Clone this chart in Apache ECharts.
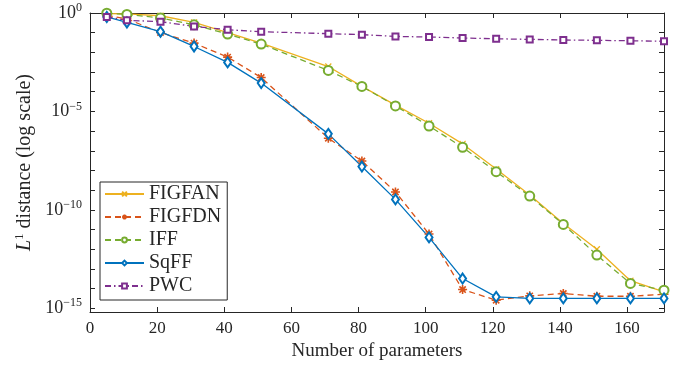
<!DOCTYPE html>
<html>
<head>
<meta charset="utf-8">
<script src="https://cdn.jsdelivr.net/npm/echarts@6/dist/echarts.min.js"></script>
<style>
  html, body { margin: 0; padding: 0; background: #fff; }
  #chart { width: 681px; height: 366px; }
</style>
</head>
<body>
<div id="chart"></div>
<script>
// number of parameters (no run at 61)
const params = [5, 11, 21, 31, 41, 51, 71, 81, 91, 101, 111, 121, 131, 141, 151, 161, 171];

// log10 of the L1 distance
const figfan = [-0.03, -0.04, -0.14, -0.48, -1.0, -1.53, -2.72, -3.73, -4.68, -5.6, -6.65, -7.93, -9.25, -10.69, -12.0, -13.6, -14.17];
const figfdn = [-0.12, -0.3, -0.99, -1.53, -2.24, -3.28, -6.36, -7.52, -9.09, -11.23, -14.05, -14.59, -14.37, -14.25, -14.39, -14.39, -14.29];
const iff = [-0.01, -0.07, -0.25, -0.6, -1.07, -1.58, -2.92, -3.73, -4.72, -5.74, -6.82, -8.06, -9.3, -10.74, -12.3, -13.74, -14.08];
const sqff = [-0.2, -0.48, -0.95, -1.7, -2.51, -3.56, -6.14, -7.8, -9.47, -11.4, -13.49, -14.42, -14.5, -14.5, -14.5, -14.5, -14.5];
const pwc = [-0.2, -0.37, -0.44, -0.68, -0.85, -0.95, -1.05, -1.1, -1.19, -1.22, -1.27, -1.31, -1.34, -1.37, -1.39, -1.41, -1.44];

const xTicks = [0, 20, 40, 60, 80, 100, 120, 140, 160];
const yMinorTicks = [-15, -14, -13, -12, -11, -10, -9, -8, -7, -6, -5, -4, -3, -2, -1, 0];
const yLabels = [-15, -10, -5, 0];

const serif = "Liberation Serif";
const axisColor = "#262626";

const X_MARK = "path://M0,0L10,10M10,0L0,10";
const STAR_MARK = "path://M5,0L5,10M0,5L10,5M1.5,1.5L8.5,8.5M8.5,1.5L1.5,8.5";

const pairs = (ys) => params.map((x, i) => [x, ys[i]]);

const mkSeries = (name, ys, color, symbol, size, dash, bw) => ({
  name,
  type: "line",
  data: pairs(ys),
  symbol,
  symbolSize: size,
  showAllSymbol: true,
  lineStyle: { color, width: 1.3, type: dash },
  itemStyle: { color, borderColor: color, borderWidth: bw || 1.2 },
  emphasis: { disabled: true },
  animation: false,
});

const chart = echarts.init(document.getElementById("chart"));

const baseX = {
  type: "value",
  min: 0,
  max: 171,
  axisLine: { show: true, onZero: false, lineStyle: { color: axisColor, width: 1 } },
  axisTick: { show: true, inside: true, length: 5, customValues: xTicks, lineStyle: { color: axisColor } },
  splitLine: { show: false },
};
const baseY = {
  type: "value",
  min: -15.19,
  max: 0,
  axisLine: { show: true, onZero: false, lineStyle: { color: axisColor, width: 1 } },
  axisTick: { show: true, inside: true, length: 5, customValues: yMinorTicks, lineStyle: { color: axisColor } },
  splitLine: { show: false },
};

chart.setOption({
  backgroundColor: "#fff",
  animation: false,
  grid: { left: 90, right: 17, top: 13, bottom: 54, outerBoundsMode: "none" },
  xAxis: [
    {
      ...baseX,
      position: "bottom",
      name: "Number of parameters",
      nameLocation: "middle",
      nameGap: 28,
      nameTextStyle: { fontFamily: serif, fontSize: 19, color: "#262626" },
      axisLabel: {
        customValues: xTicks,
        fontFamily: serif,
        fontSize: 17,
        color: "#262626",
        margin: 8,
      },
    },
    { ...baseX, position: "top", axisLabel: { show: false } },
  ],
  yAxis: [
    {
      ...baseY,
      position: "left",
      name: "{it|L}{sup|1} distance (log scale)",
      nameLocation: "middle",
      nameGap: 54,
      nameTextStyle: {
        fontFamily: serif,
        fontSize: 20,
        color: "#262626",
        rich: {
          it: { fontFamily: serif, fontSize: 20, fontStyle: "italic", color: "#262626" },
          sup: { fontFamily: serif, fontSize: 13, color: "#262626", padding: [0, 0, 10, 0] },
        },
      },
      axisLabel: {
        customValues: yLabels,
        margin: 8,
        formatter: (v) => "{b|10}{s|" + (v === 0 ? "0" : "\u2212" + -v) + "}",
        rich: {
          b: { fontFamily: serif, fontSize: 18, color: "#262626" },
          s: { fontFamily: serif, fontSize: 12, color: "#262626", padding: [0, 0, 10, 0] },
        },
      },
    },
    { ...baseY, position: "right", axisLabel: { show: false } },
  ],
  legend: {
    orient: "vertical",
    left: 100,
    top: 182,
    itemWidth: 39,
    itemHeight: 6,
    itemGap: 3,
    padding: [2, 6, 4, 4],
    backgroundColor: "#fff",
    borderColor: "#262626",
    borderWidth: 1,
    borderRadius: 0,
    textStyle: { fontFamily: serif, fontSize: 20, color: "#262626", lineHeight: 20 },
    data: ["FIGFAN", "FIGFDN", "IFF", "SqFF", "PWC"],
  },
  series: [
    mkSeries("FIGFAN", figfan, "#EDB120", X_MARK, 6, "solid"),
    mkSeries("FIGFDN", figfdn, "#D95319", STAR_MARK, 9, [6, 4], 1.6),
    mkSeries("IFF", iff, "#77AC30", "emptyCircle", 9, [6, 4]),
    mkSeries("SqFF", sqff, "#0072BD", "emptyDiamond", [7, 10], "solid"),
    mkSeries("PWC", pwc, "#7E2F8E", "emptyRect", 6, [6, 3, 1.5, 3]),
  ],
});
</script>
</body>
</html>
